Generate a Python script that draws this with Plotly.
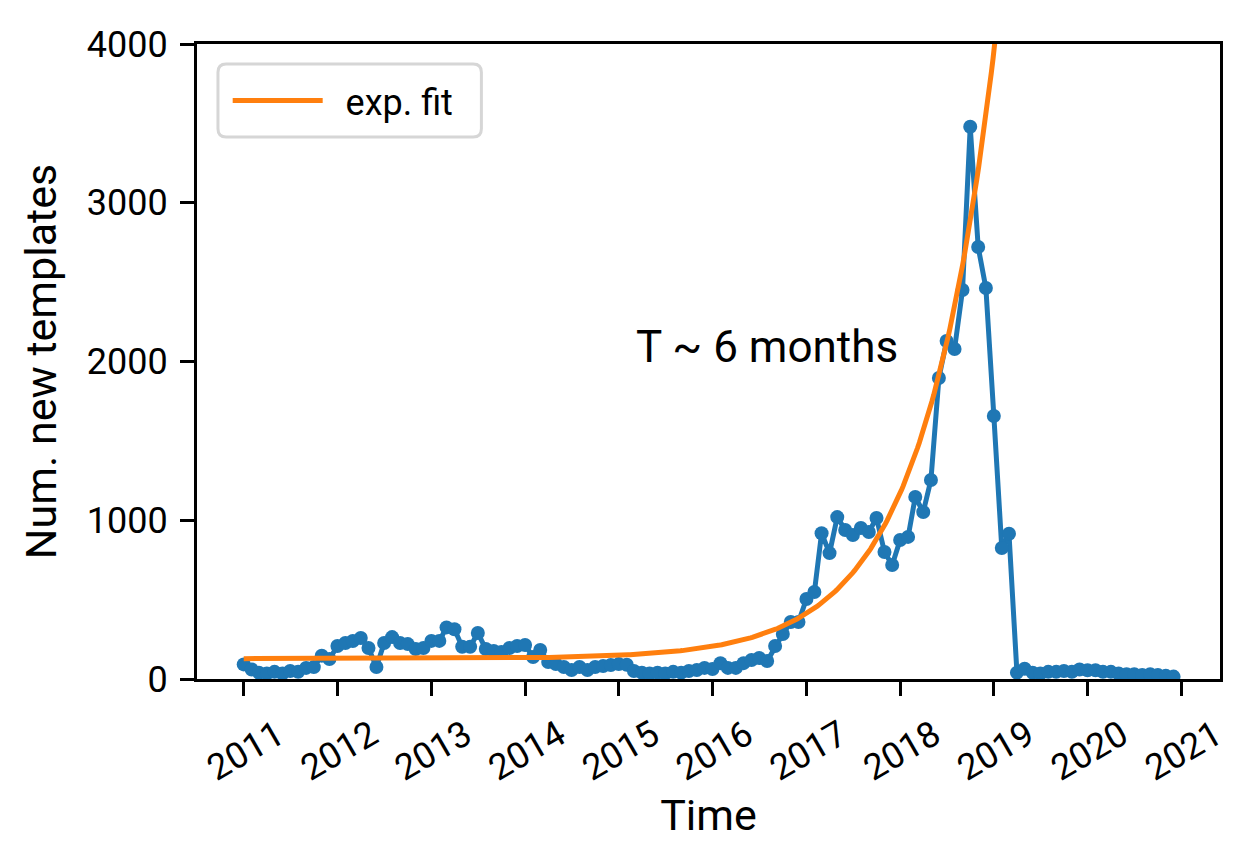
import pandas as pd
import numpy as np
import plotly.graph_objects as go

# monthly counts of new templates, Jan..Dec of each year
counts_2011 = [92, 60, 40, 35, 45, 35, 50, 45, 70, 75, 147, 126]
counts_2012 = [208, 227, 239, 258, 195, 76, 227, 264, 227, 220, 189, 195]
counts_2013 = [240, 240, 325, 313, 203, 203, 290, 189, 176, 170, 195, 208]
counts_2014 = [214, 139, 183, 107, 94, 76, 57, 76, 57, 76, 82, 88]
counts_2015 = [94, 90, 50, 40, 35, 40, 35, 45, 40, 50, 57, 70]
counts_2016 = [63, 100, 70, 70, 100, 120, 132, 113, 208, 283, 359, 359]
counts_2017 = [504, 548, 918, 793, 1020, 939, 907, 951, 926, 1014, 800, 718]
counts_2018 = [876, 895, 1147, 1052, 1254, 1896, 2129, 2079, 2450, 3479, 2721, 2463]
counts_2019 = [1657, 825, 915, 40, 65, 40, 35, 45, 45, 50, 45, 60]
counts_2020 = [55, 55, 45, 45, 35, 30, 30, 25, 30, 25, 20, 15]

counts = (counts_2011 + counts_2012 + counts_2013 + counts_2014 + counts_2015
          + counts_2016 + counts_2017 + counts_2018 + counts_2019 + counts_2020)
months = pd.date_range("2011-01-01", periods=len(counts), freq="MS")

# exponential fit: base + amp * 2^((t - t_ref) / T), t in months
fit_base = 128
fit_amp = 3822
fit_ref = pd.Timestamp("2019-01-01")
fit_T = 6.4

fit_x = pd.date_range("2011-01-01", "2019-03-01", freq="7D")
fit_m = (fit_x - fit_ref).days / 30.44
fit_y = fit_base + fit_amp * 2 ** (fit_m / fit_T)

year_ticks = pd.date_range("2011-01-01", "2021-01-01", freq="YS")
year_labels = [str(d.year) for d in year_ticks]

FONT = "Roboto, DejaVu Sans Condensed, sans-serif"
BLUE = "#1f77b4"
ORANGE = "#ff7f0e"

fig = go.Figure()
fig.add_trace(go.Scatter(x=months, y=counts, mode="lines+markers",
                         line=dict(color=BLUE, width=5),
                         marker=dict(color=BLUE, size=14),
                         showlegend=False))
fig.add_trace(go.Scatter(x=fit_x, y=fit_y, mode="lines", name="  exp. fit",
                         line=dict(color=ORANGE, width=5)))

fig.add_annotation(x="2015-03-01", y=2090, xref="x", yref="y",
                   text="T ~ 6 months", showarrow=False,
                   xanchor="left", yanchor="middle",
                   font=dict(size=44, color="black", family=FONT))

# rounded legend frame
rx, ry = 0.008, 0.013
x0, x1, y0, y1 = 0.0205, 0.278, 0.8535, 0.9685
path = (f"M{x0+rx},{y0} L{x1-rx},{y0} Q{x1},{y0} {x1},{y0+ry} "
        f"L{x1},{y1-ry} Q{x1},{y1} {x1-rx},{y1} L{x0+rx},{y1} "
        f"Q{x0},{y1} {x0},{y1-ry} L{x0},{y0+ry} Q{x0},{y0} {x0+rx},{y0} Z")
fig.add_shape(type="path", path=path, xref="paper", yref="paper",
              line=dict(color="#d6d6d6", width=3), fillcolor="white",
              layer="above")

fig.update_layout(
    width=1249, height=859,
    margin=dict(l=189, r=37, t=36, b=188),
    plot_bgcolor="white", paper_bgcolor="white",
    font=dict(family=FONT, size=36, color="black"),
    showlegend=True,
    legend=dict(x=0.03, y=0.958, xanchor="left", yanchor="top",
                bgcolor="rgba(0,0,0,0)", borderwidth=0,
                font=dict(size=36), itemwidth=90),
    xaxis=dict(range=["2010-07-03", "2021-05-31"], type="date",
               tickvals=year_ticks, ticktext=year_labels, tickangle=-30,
               ticklabelshift=34, ticklabelstandoff=4,
               ticks="outside", ticklen=14, tickwidth=3.3, tickcolor="black",
               showline=True, linecolor="black", linewidth=3.3, mirror=True,
               showgrid=False, zeroline=False,
               title=dict(text="Time", standoff=12)),
    yaxis=dict(range=[0, 4000], tickvals=[0, 1000, 2000, 3000, 4000],
               ticklabelstandoff=5,
               ticks="outside", ticklen=14, tickwidth=3.3, tickcolor="black",
               showline=True, linecolor="black", linewidth=3.3, mirror=True,
               showgrid=False, zeroline=False,
               title=dict(text="Num. new templates", standoff=17)),
)

fig.write_html("out.html")
